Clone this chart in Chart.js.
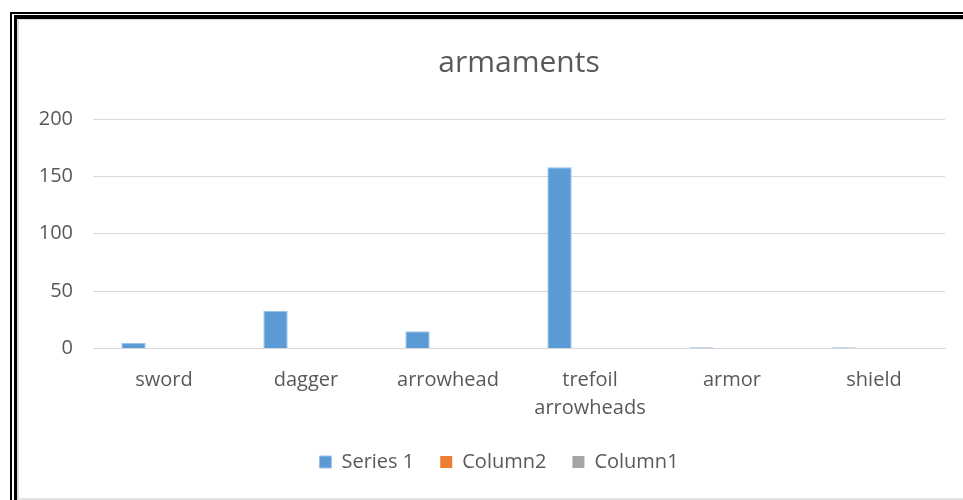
<!DOCTYPE html>
<html>
<head>
<meta charset="utf-8">
<script src="https://cdn.jsdelivr.net/npm/chart.js@4.4.1/dist/chart.umd.min.js"></script>
<style>
  html, body { margin: 0; padding: 0; background: #fff; width: 963px; height: 500px; overflow: hidden; }
  .frame-outer { position: absolute; left: 10px; top: 12px; width: 1100px; height: 600px;
                 border-left: 2px solid #000; border-top: 2px solid #000; }
  .frame-inner { position: absolute; left: 14px; top: 15px; width: 1100px; height: 600px;
                 border-left: 3px solid #000; border-top: 4px solid #000; }
  .chart-box { position: absolute; left: 17px; top: 19px; width: 1000px; height: 478px;
               border-left: 2px solid #d9d9d9; border-top: 1px solid #d9d9d9; border-bottom: 2px solid #e3e3e3; background: #fff; }
  .chart-wrap { position: absolute; left: 19px; top: 20px; width: 960px; height: 478px; }
</style>
</head>
<body>
<div class="frame-outer"></div>
<div class="frame-inner"></div>
<div class="chart-box"></div>
<div class="chart-wrap"><canvas id="chart" width="960" height="478"></canvas></div>
<script>
// Item categories and counts
const categories = ['sword', 'dagger', 'arrowhead', ['trefoil', 'arrowheads'], 'armor', 'shield'];
const series1 = [5, 33, 15, 158, 1, 1];
const column2 = [null, null, null, null, null, null];
const column1 = [null, null, null, null, null, null];
const yTicks = [0, 50, 100, 150, 200];

const textGray = '#595959';
const gridGray = '#d9d9d9';
const font = { family: '"Open Sans", "Segoe UI", sans-serif', size: 20 };

new Chart(document.getElementById('chart'), {
  type: 'bar',
  data: {
    labels: categories,
    datasets: [
      { label: 'Series 1', data: series1, backgroundColor: '#5b9bd5', borderColor: '#9cc2e8', borderWidth: 1 },
      { label: 'Column2', data: column2, backgroundColor: '#ed7d31', borderColor: '#ed7d31', borderWidth: 0 },
      { label: 'Column1', data: column1, backgroundColor: '#a5a5a5', borderColor: '#a5a5a5', borderWidth: 0 }
    ]
  },
  options: {
    responsive: false,
    animation: false,
    events: [],
    datasets: { bar: { categoryPercentage: 0.644, barPercentage: 0.80 } },
    layout: { padding: { left: 0, right: 0, top: 0, bottom: 16 } },
    plugins: {
      tooltip: { enabled: false },
      title: {
        display: true,
        text: 'armaments',
        fullSize: false,
        color: textGray,
        font: { family: font.family, size: 30, weight: 'normal' },
        padding: { top: 25, bottom: 38 }
      },
      legend: {
        position: 'bottom',
        labels: {
          color: textGray,
          font: font,
          boxWidth: 12,
          boxHeight: 12,
          padding: 26
        }
      }
    },
    scales: {
      x: {
        grid: { display: false, drawTicks: false },
        border: { display: true, color: gridGray, width: 1 },
        ticks: { color: textGray, font: { ...font, lineHeight: 1.4 }, padding: 18, maxRotation: 0, autoSkip: false },
        afterFit: (scale) => { scale.height = 77.5; }
      },
      y: {
        min: 0,
        max: 200,
        afterBuildTicks: (scale) => { scale.ticks = yTicks.map(v => ({ value: v })); },
        grid: { color: gridGray, lineWidth: 1, drawTicks: false },
        border: { display: false },
        ticks: { color: textGray, font: font, padding: 20 },
        afterFit: (scale) => { scale.width = 74; }
      },
      // empty right margin of the plot area
      yRight: {
        position: 'right',
        min: 0,
        max: 200,
        grid: { display: false, drawTicks: false },
        border: { display: false },
        ticks: { display: false },
        afterFit: (scale) => { scale.width = 34; }
      }
    }
  }
});
</script>
</body>
</html>
